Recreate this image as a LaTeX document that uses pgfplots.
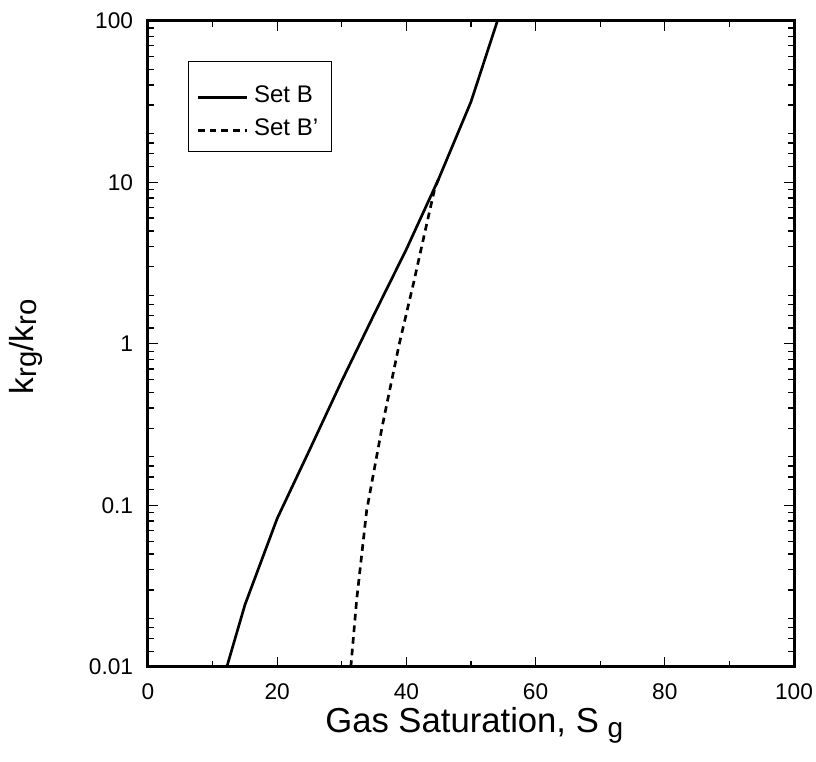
\documentclass[border=0pt]{standalone}
\usepackage{fontspec}
\setmainfont{Liberation Sans}
\usepackage{pgfplots}
\pgfplotsset{compat=1.18}
\begin{document}
\begin{tikzpicture}
\begin{axis}[
  scale only axis, width=484.5pt, height=484.7pt,
  xmin=0, xmax=100, ymode=log, ymin=0.01, ymax=100,
  xtick={0,20,40,60,80,100}, xticklabels={0,20,40,60,80,100},
  minor xtick={10,30,50,70,90},
  ytick={0.01,0.1,1,10,100}, yticklabels={0.01,0.1,1,10,100},
  minor ytick={0.0125,0.015,0.0175,0.02,0.03,0.04,0.05,0.06,0.07,0.08,0.09,
    0.125,0.15,0.175,0.2,0.3,0.4,0.5,0.6,0.7,0.8,0.9,
    1.25,1.5,1.75,2,3,4,5,6,7,8,9,
    12.5,15,17.5,20,30,40,50,60,70,80,90},
  tick align=inside, tick pos=both, xticklabel pos=lower, yticklabel pos=left,
  major tick length=7.5pt, minor tick length=4.5pt,
  every tick/.style={black, line width=1pt},
  axis line style={line width=2.25pt},
  tick label style={font=\fontsize{17}{20}\selectfont},
  xticklabel style={anchor=north, inner sep=0pt, yshift=-12pt},
  yticklabel style={anchor=east, inner sep=0pt, xshift=-11pt},
  xlabel={Gas Saturation, S\hspace{0.25em}\raisebox{-0.15em}{\fontsize{21}{21}\selectfont g}},
  xlabel style={font=\fontsize{26}{30}\selectfont, at={(axis description cs:0.505,-0.101)}, anchor=base},
  ylabel={k\raisebox{-0.1em}{\fontsize{22}{22}\selectfont rg}/k\raisebox{-0.1em}{\fontsize{22}{22}\selectfont ro}},
  ylabel style={font=\fontsize{25}{28}\selectfont, at={(axis description cs:-0.178,0.495)}, anchor=base},
  legend style={at={(axis description cs:0.0624,0.938)}, anchor=north west, draw=black, line width=0.75pt,
    font=\fontsize{18}{20}\selectfont, inner xsep=6pt, inner ysep=10pt, row sep=2pt,
    nodes={inner xsep=4pt, inner ysep=2pt, text height=18.75pt, text depth=0pt}},
  legend cell align=left,
  legend image code/.code={\draw[#1] (0pt,-6pt) -- (37pt,-6pt);},
]
\addplot[black, line width=2pt] coordinates {
(12.2,0.01) (15,0.0242) (20,0.083) (25,0.22) (30,0.59) (35,1.52) (40,3.85) (45,10.5) (50,31.5) (54.1,100)
};
\addlegendentry{Set B}
\addplot[black, line width=2pt, dash pattern=on 5pt off 3.75pt] coordinates {
(31.4,0.01) (32.3,0.026) (33.85,0.093) (35,0.165) (36.2,0.30) (37,0.43) (38.9,1.0) (41.1,2.37) (43,5.2) (44.4,9.2) (45,10.5)
};
\addlegendentry{Set B'}
\end{axis}
\pgfresetboundingbox
\path ([shift={(-111pt,-71.25pt)}]current axis.south west) rectangle ([shift={(16.5pt,15.5pt)}]current axis.north east);
\end{tikzpicture}
\end{document}
